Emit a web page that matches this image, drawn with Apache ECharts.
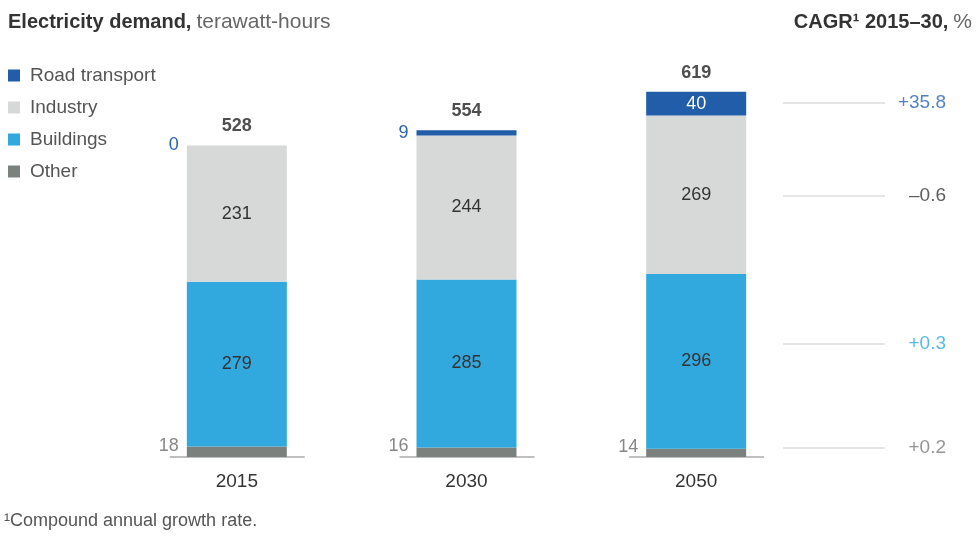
<!DOCTYPE html>
<html><head><meta charset="utf-8">
<script src="https://cdn.jsdelivr.net/npm/echarts@6/dist/echarts.min.js"></script>
<style>html,body{margin:0;padding:0;background:#fff}#c{width:980px;height:539px}</style>
</head><body><div id="c"></div>
<script>
const categories = ['2015', '2030', '2050'];
const roadTransport = [0, 9, 40];
const industry = [231, 244, 269];
const buildings = [279, 285, 296];
const other = [18, 16, 14];
const totals = [528, 554, 619];
const cagrLabels = ['+35.8', '–0.6', '+0.3', '+0.2'];
const cagrLevels = [600, 443, 192, 16];

const FONT = 'Liberation Sans, Arial, sans-serif';
const C_ROAD = '#215da8', C_IND = '#d7d8d8', C_BLD = '#31a9de', C_OTH = '#7b827e';
const cagrColors = ['#2a63b0', '#333333', '#31a9de', '#7a7a7a'];

const chart = echarts.init(document.getElementById('c'), null, {renderer: 'canvas'});
const valLabel = {show: true, position: 'inside', color: '#333', fontSize: 18, fontFamily: FONT};

const option = {
  animation: false,
  textStyle: {fontFamily: FONT},
  title: [
    {left: 8, top: 12, padding: 0, text: '{b|Electricity demand,} {n|terawatt-hours}',
     textStyle: {rich: {b: {fontSize: 20, fontWeight: 'bold', color: '#333', fontFamily: FONT},
                        n: {fontSize: 21, fontWeight: 'normal', color: '#666', fontFamily: FONT}}}},
    {right: 8, top: 12, padding: 0, text: '{b|CAGR¹ 2015–30,} {n|%}',
     textStyle: {rich: {b: {fontSize: 20, fontWeight: 'bold', color: '#333', fontFamily: FONT},
                        n: {fontSize: 21, fontWeight: 'normal', color: '#666', fontFamily: FONT}}}},
    {left: 4, top: 512, padding: 0, text: '¹Compound annual growth rate.',
     textStyle: {fontSize: 18, fontWeight: 'normal', color: '#555', fontFamily: FONT}}
  ],
  legend: {
    orient: 'vertical', left: 8, top: 66, padding: 0, itemWidth: 12, itemHeight: 12, itemGap: 13,
    icon: 'rect', selectedMode: false,
    data: ['Road transport', 'Industry', 'Buildings', 'Other'],
    textStyle: {fontSize: 19, color: '#555', fontFamily: FONT, padding: [0, 0, 0, 5]}
  },
  grid: [
    {left: 122, width: 689, top: 44, bottom: 82},
    {left: 783, width: 163, top: 44, bottom: 82}
  ],
  xAxis: [
    {type: 'category', data: categories, gridIndex: 0,
     axisLine: {show: false}, axisTick: {show: false},
     axisLabel: {fontSize: 19, color: '#333', margin: 15, fontFamily: FONT}},
    {type: 'value', gridIndex: 1, min: 0, max: 1, show: false}
  ],
  yAxis: [
    {type: 'value', gridIndex: 0, min: 0, max: 700, show: false},
    {type: 'value', gridIndex: 1, min: 0, max: 700, show: false}
  ],
  series: [
    {name: 'Other', type: 'bar', stack: 'a', barWidth: 100, data: other.map(v => v),
     itemStyle: {color: C_OTH},
     label: {show: true, position: 'left', distance: 8, offset: [0, -6], color: '#888', fontSize: 18, fontFamily: FONT}},
    {name: 'Buildings', type: 'bar', stack: 'a', barWidth: 100, data: buildings,
     itemStyle: {color: C_BLD}, label: valLabel},
    {name: 'Industry', type: 'bar', stack: 'a', barWidth: 100, data: industry,
     itemStyle: {color: C_IND}, label: valLabel},
    {name: 'Road transport', type: 'bar', stack: 'a', barWidth: 100,
     data: roadTransport.map((v, i) => {
       const big = v >= 20;
       return {value: v, label: big
         ? {show: true, position: 'inside', color: '#fff', fontSize: 18, fontFamily: FONT}
         : {show: true, position: 'left', distance: 8, color: '#2a63b0', fontSize: 18, fontFamily: FONT}};
     }),
     itemStyle: {color: C_ROAD}},
    {name: 'Total', type: 'scatter', symbolSize: 0, data: totals,
     label: {show: true, position: 'top', distance: 10, color: '#222', fontSize: 18, fontWeight: 'bold', fontFamily: FONT, formatter: p => String(p.value)}},
    {name: 'Baseline', type: 'custom', xAxisIndex: 0, yAxisIndex: 0, silent: true,
     data: categories.map((c, i) => [i, 0]),
     renderItem: (params, api) => {
       const p = api.coord([api.value(0), 0]);
       return {type: 'line', shape: {x1: p[0] - 67, y1: p[1], x2: p[0] + 68, y2: p[1]},
               style: {stroke: '#aaaaaa', lineWidth: 1.5}};
     }},
    {name: 'CAGR', type: 'scatter', xAxisIndex: 1, yAxisIndex: 1, symbolSize: 0, silent: true,
     data: cagrLevels.map((v, i) => ({value: [1, v],
       label: {show: true, position: 'left', distance: 0, formatter: cagrLabels[i], color: cagrColors[i], fontSize: 19, fontFamily: FONT}})),
     markLine: {silent: true, symbol: 'none', label: {show: false},
       lineStyle: {color: '#dcdcdc', width: 1.5, type: 'solid'},
       data: cagrLevels.map(v => [{coord: [0, v]}, {coord: [0.626, v]}])}}
  ]
};
chart.setOption(option);
</script></body></html>
